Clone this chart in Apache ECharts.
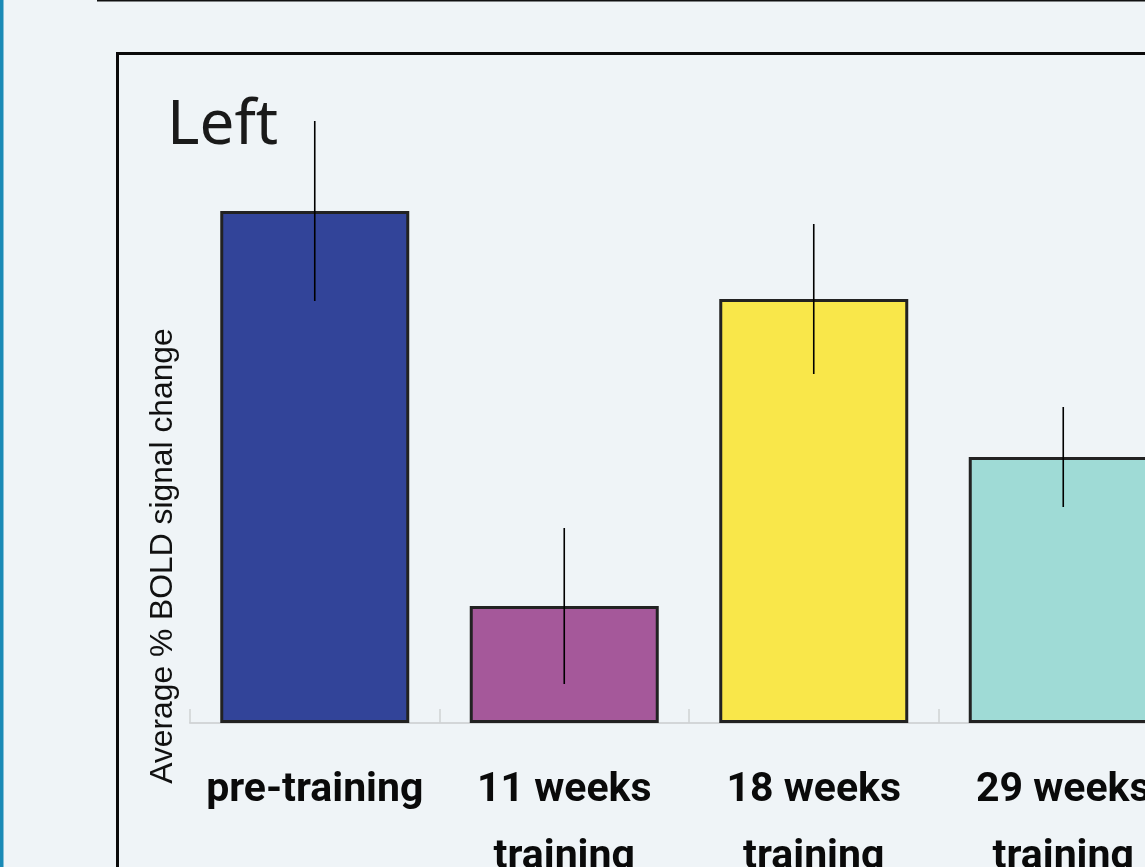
<!DOCTYPE html>
<html>
<head>
<meta charset="utf-8">
<title>Left – Average % BOLD signal change</title>
<script src="https://cdn.jsdelivr.net/npm/echarts@6/dist/echarts.min.js"></script>
<style>
  html, body { margin: 0; padding: 0; background: #eff4f7; }
  #chart { width: 1145px; height: 867px; }
</style>
</head>
<body>
<div id="chart"></div>
<script>
// Training stages along the x axis
const categories = ['pre-training', '11 weeks\ntraining', '18 weeks\ntraining', '29 weeks\ntraining'];
// Mean BOLD signal change per stage
const meanValues = [0.512, 0.117, 0.424, 0.266];
// Half-length of each error bar
const errorValues = [0.090, 0.078, 0.075, 0.050];
// Bar fill colours per stage
const barColors = ['#324499', '#a5589a', '#f9e74a', '#9fdbd6'];

const chart = echarts.init(document.getElementById('chart'), null, { renderer: 'canvas' });

const barData = meanValues.map((v, i) => ({
  value: v,
  itemStyle: { color: barColors[i] }
}));

const errorData = meanValues.map((v, i) => [i, v - errorValues[i], v + errorValues[i]]);

chart.setOption({
  backgroundColor: '#eff4f7',
  animation: false,
  // the plot runs past the right edge of the page, so the last bar is clipped
  grid: { left: 190, top: 73, width: 998, height: 650, containLabel: false, outerBoundsMode: 'none' },
  xAxis: {
    type: 'category',
    data: categories,
    axisLine: { lineStyle: { color: '#d3d6d8', width: 2 } },
    axisTick: { show: true, inside: true, length: 14, lineStyle: { color: '#cfd2d4', width: 1.5 } },
    axisLabel: {
      margin: 34,
      fontFamily: 'Roboto',
      fontWeight: 'bold',
      fontSize: 41,
      lineHeight: 67,
      color: '#0a0a0a',
      interval: 0
    }
  },
  yAxis: {
    type: 'value',
    min: 0,
    max: 0.65,
    show: false
  },
  series: [
    {
      type: 'bar',
      data: barData,
      barWidth: 189,
      itemStyle: { borderColor: '#222222', borderWidth: 3 },
      z: 2
    },
    {
      type: 'custom',
      data: errorData,
      z: 3,
      renderItem: function (params, api) {
        const lo = api.coord([api.value(0), api.value(1)]);
        const hi = api.coord([api.value(0), api.value(2)]);
        return {
          type: 'line',
          shape: { x1: lo[0], y1: lo[1], x2: hi[0], y2: hi[1] },
          style: { stroke: '#000000', lineWidth: 1.6 }
        };
      }
    }
  ],
  graphic: [
    // blue strip on the left edge
    { type: 'rect', shape: { x: 0, y: 0, width: 3.5, height: 867 }, style: { fill: '#1a8ab6' }, z: 10 },
    // thin rule along the top
    { type: 'rect', shape: { x: 97, y: 0, width: 1100, height: 1.6 }, style: { fill: '#111111' }, z: 10 },
    // frame around the panel
    { type: 'rect', shape: { x: 117.5, y: 53.5, width: 1200, height: 1000 }, style: { fill: 'none', stroke: '#0a0a0a', lineWidth: 3 }, z: 10 },
    // panel title
    { type: 'text', x: 167, y: 126, style: { text: 'Left', font: '400 62px "Noto Sans"', fill: '#1a1a1a', verticalAlign: 'middle', textAlign: 'left' }, z: 10 },
    // y-axis caption
    { type: 'text', x: 163, y: 556, rotation: Math.PI / 2, style: { text: 'Average % BOLD signal change', font: '31.8px "Liberation Sans"', fill: '#111111', textAlign: 'center', verticalAlign: 'middle' }, z: 10 }
  ]
});
</script>
</body>
</html>
